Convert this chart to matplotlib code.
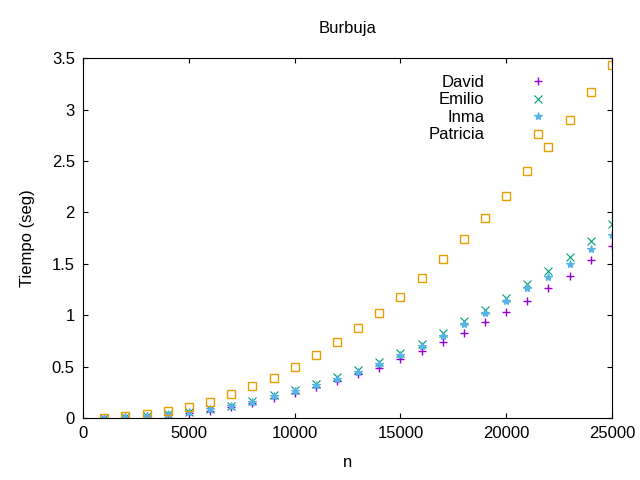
import numpy as np
import matplotlib.pyplot as plt

plt.rcParams['font.family'] = ['Liberation Sans', 'DejaVu Sans']

n = np.arange(1000, 26000, 1000)
david = [0.003, 0.01, 0.02, 0.03, 0.05, 0.07, 0.11, 0.15, 0.2, 0.24, 0.3, 0.36, 0.43, 0.49, 0.57,
         0.65, 0.74, 0.83, 0.93, 1.03, 1.14, 1.26, 1.38, 1.54, 1.67]
emilio = [0.003, 0.012, 0.025, 0.04, 0.06, 0.09, 0.12, 0.17, 0.22, 0.27, 0.33, 0.40, 0.47, 0.55, 0.63,
          0.72, 0.83, 0.94, 1.05, 1.17, 1.30, 1.43, 1.57, 1.72, 1.89]
inma = [0.003, 0.011, 0.024, 0.038, 0.057, 0.085, 0.115, 0.16, 0.21, 0.26, 0.32, 0.38, 0.45, 0.53, 0.61,
        0.70, 0.80, 0.91, 1.02, 1.14, 1.26, 1.37, 1.50, 1.64, 1.78]
patricia = [0.005, 0.02, 0.04, 0.065, 0.105, 0.16, 0.23, 0.31, 0.39, 0.5, 0.61, 0.74, 0.88, 1.02, 1.18,
            1.36, 1.55, 1.74, 1.95, 2.16, 2.4, 2.64, 2.9, 3.17, 3.43]

fig, ax = plt.subplots(figsize=(6.4, 4.8), dpi=100)
fig.subplots_adjust(left=0.13, right=0.956, top=0.879, bottom=0.129)
ax.plot(n, david, '+', color='#9400d3', ms=6, mew=1, label='David')
ax.plot(n, emilio, 'x', color='#009e73', ms=6, mew=0.8, label='Emilio')
ax.plot(n, inma, '*', color='#56b4e9', ms=6, mew=0.8, label='Inma')
ax.plot(n, patricia, 's', mfc='none', color='#e69f00', ms=6, mew=1, label='Patricia')
ax.set_xlim(0, 25000)
ax.set_ylim(0, 3.5)
ax.set_xticks(np.arange(0, 25001, 5000))
ax.set_yticks(np.arange(0, 3.51, 0.5))
ax.set_yticklabels(['0', '0.5', '1', '1.5', '2', '2.5', '3', '3.5'])
ax.tick_params(direction='in', top=True, right=True, labelsize=12, pad=6)
ax.set_xlabel('n', fontsize=12, labelpad=10)
ax.set_ylabel('Tiempo (seg)', fontsize=12, labelpad=12)
ax.set_title('Burbuja', fontsize=12, pad=18)
leg = ax.legend(loc='upper right', bbox_to_anchor=(0.92, 0.995), frameon=False, markerfirst=False,
                fontsize=12, handletextpad=2.2, labelspacing=0.15)
fig.savefig('out.png')
